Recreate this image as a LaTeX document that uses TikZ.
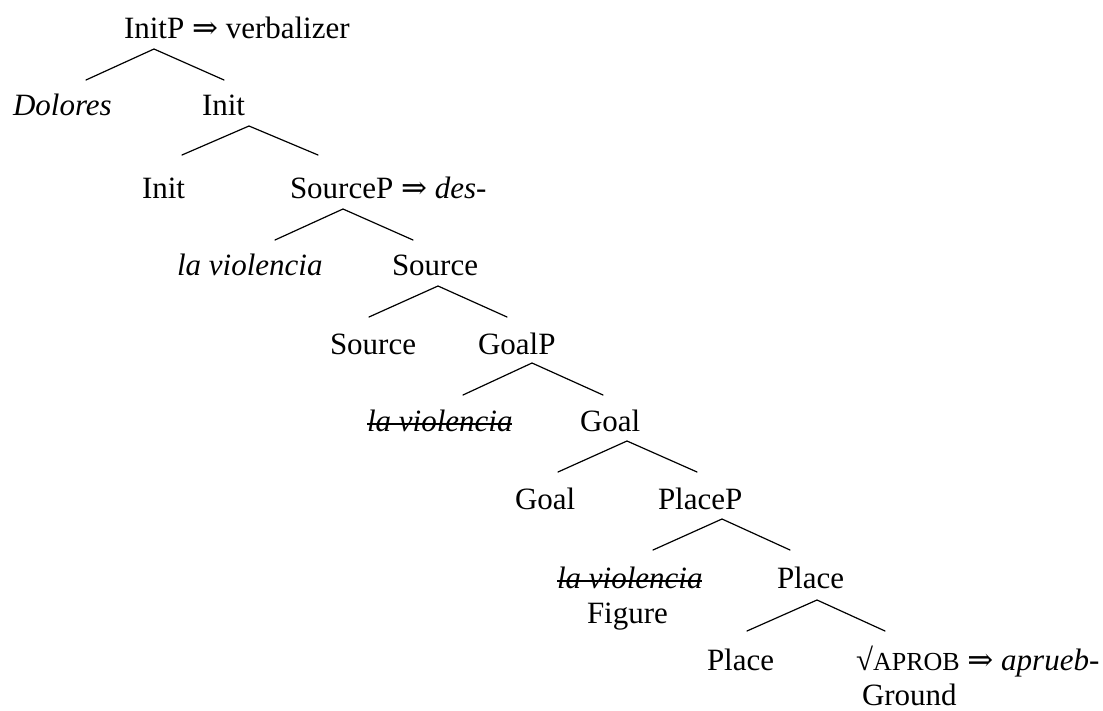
\documentclass[tikz,border=0pt]{standalone}
\usepackage{fontspec}
\setmainfont{Liberation Serif}
\newfontfamily\arrowfont{DejaVu Serif}
\newcommand\dbarrow{{\arrowfont ⇒}}
\newcommand\smcaps[1]{{\fontsize{26}{30}\selectfont #1}}
\begin{document}
\begin{tikzpicture}[x=1pt,y=-1pt,
  lbl/.style={anchor=base west,inner sep=0pt,outer sep=0pt,font=\fontsize{31}{36}\selectfont},
  branch/.style={line width=1.2pt,line cap=round},
  strike/.style={line width=1.3pt}]
\useasboundingbox (0,0) rectangle (1103,711);

% labels, placed by their baselines
\node[lbl] (initP)   at (124,39)  {InitP \dbarrow{} verbalizer};
\node[lbl] (dolores) at (13,116)  {\itshape Dolores};
\node[lbl] (initA)   at (202,116) {Init};
\node[lbl] (initB)   at (142,199) {Init};
\node[lbl] (srcP)    at (290,199) {SourceP \dbarrow{} \textit{des}-};
\node[lbl] (lvA)     at (177,276) {\itshape la violencia};
\node[lbl] (srcA)    at (392,276) {Source};
\node[lbl] (srcB)    at (330,354) {Source};
\node[lbl] (goalP)   at (478,354) {GoalP};
\node[lbl] (lvB)     at (367,431) {\itshape la violencia};
\node[lbl] (goalA)   at (580,431) {Goal};
\node[lbl] (goalB)   at (515,509) {Goal};
\node[lbl] (placeP)  at (658,509) {PlaceP};
\node[lbl] (lvC)     at (557,588) {\itshape la violencia};
\node[lbl] (figure)  at (587,623) {Figure};
\node[lbl] (placeA)  at (777,588) {Place};
\node[lbl] (placeB)  at (707,670) {Place};
\node[lbl] (root)    at (856,670) {√\smcaps{APROB} \dbarrow{} \textit{aprueb}-};
\node[lbl] (ground)  at (862,705) {Ground};

% struck-out copies of the moved phrase
\draw[strike] ([yshift=7pt]lvB.base west) -- ([yshift=7pt]lvB.base east);
\draw[strike] ([yshift=7pt]lvC.base west) -- ([yshift=7pt]lvC.base east);

% branching points: apex, left foot, right foot
\coordinate (t1) at (154,49);  \coordinate (t1l) at (86,80);   \coordinate (t1r) at (224,80);
\coordinate (t2) at (249,126); \coordinate (t2l) at (182,155); \coordinate (t2r) at (318,155);
\coordinate (t3) at (343,209); \coordinate (t3l) at (275,240); \coordinate (t3r) at (413,240);
\coordinate (t4) at (438,286); \coordinate (t4l) at (369,317); \coordinate (t4r) at (507,317);
\coordinate (t5) at (532,363); \coordinate (t5l) at (463,395); \coordinate (t5r) at (603,395);
\coordinate (t6) at (627,441); \coordinate (t6l) at (558,472); \coordinate (t6r) at (697,472);
\coordinate (t7) at (722,519); \coordinate (t7l) at (653,550); \coordinate (t7r) at (790,550);
\coordinate (t8) at (817,600); \coordinate (t8l) at (747,631); \coordinate (t8r) at (885,631);

\foreach \t in {t1,t2,t3,t4,t5,t6,t7,t8}
  \draw[branch] (\t l) -- (\t) -- (\t r);
\end{tikzpicture}
\end{document}
